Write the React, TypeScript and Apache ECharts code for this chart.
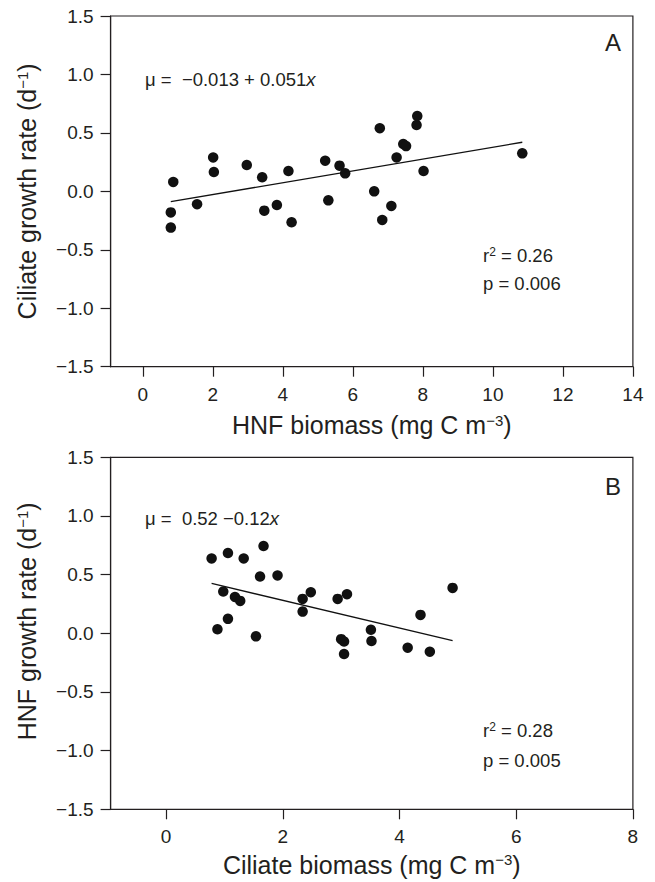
import React, { useEffect, useRef } from "react";
import * as echarts from "echarts";

// Panel A: HNF biomass vs ciliate growth rate
const hnfBiomassA = [0.8, 0.8, 0.87, 1.55, 2.01, 2.03, 2.97, 3.41, 3.47, 3.83, 4.16, 4.25, 5.21, 5.3, 5.62, 5.78, 6.61, 6.77, 6.84, 7.1, 7.25, 7.44, 7.52, 7.82, 7.84, 8.02, 10.84];
const ciliateGrowthA = [-0.18, -0.31, 0.08, -0.11, 0.29, 0.165, 0.225, 0.12, -0.165, -0.117, 0.174, -0.265, 0.262, -0.077, 0.22, 0.154, 0.0, 0.54, -0.245, -0.125, 0.29, 0.405, 0.387, 0.567, 0.644, 0.174, 0.325];
const fitAX = [0.8, 10.84];
const fitAY = [-0.088, 0.42];

// Panel B: ciliate biomass vs HNF growth rate
const ciliateBiomassB = [0.78, 1.06, 1.33, 1.67, 1.61, 1.91, 0.98, 1.18, 1.27, 1.06, 0.88, 1.54, 2.34, 2.48, 2.34, 2.94, 3.1, 3.0, 3.05, 3.51, 3.52, 4.36, 4.91, 3.05, 4.14, 4.52];
const hnfGrowthB = [0.638, 0.684, 0.638, 0.744, 0.484, 0.493, 0.356, 0.31, 0.276, 0.123, 0.034, -0.026, 0.293, 0.35, 0.185, 0.293, 0.333, -0.05, -0.07, 0.03, -0.066, 0.157, 0.387, -0.177, -0.123, -0.157];
const fitBX = [0.78, 4.91];
const fitBY = [0.425, -0.063];

// Tick values
const xTicksA = [0, 2, 4, 6, 8, 10, 12, 14];
const xTicksB = [0, 2, 4, 6, 8];

const FONT = "'Liberation Sans', Arial, Helvetica, sans-serif";
const INK = "#231f20";

const fmtY = (v: number) => v.toFixed(1).replace("-", "\u2212");

function makeYAxis(gridIndex: number, name: string, pad: number[]) {
  return {
    type: "value",
    gridIndex,
    min: -1.5,
    max: 1.5,
    interval: 0.5,
    name,
    nameLocation: "middle",
    nameGap: 71,
    nameTextStyle: {
      fontSize: 25,
      fontFamily: FONT,
      color: INK,
      padding: pad,
      rich: { s: { fontSize: 15, fontFamily: FONT, color: INK, verticalAlign: "top" } },
    },
    axisLine: { show: true, onZero: false, lineStyle: { color: INK, width: 1.2 } },
    axisTick: { show: true, length: 10, lineStyle: { color: INK, width: 1.2 } },
    axisLabel: { margin: 17, fontSize: 19, fontFamily: FONT, color: INK, formatter: fmtY },
    splitLine: { show: false },
  };
}

function makeXAxis(gridIndex: number, min: number, max: number, ticks: number[], name: string, gap: number) {
  return {
    type: "value",
    gridIndex,
    min,
    max,
    name,
    nameLocation: "middle",
    nameGap: gap,
    nameTextStyle: {
      fontSize: 25,
      fontFamily: FONT,
      color: INK,
      rich: { s: { fontSize: 15, fontFamily: FONT, color: INK, verticalAlign: "top" } },
    },
    axisLine: { show: true, onZero: false, lineStyle: { color: INK, width: 1.2 } },
    axisTick: { show: true, length: 10, customValues: ticks, lineStyle: { color: INK, width: 1.2 } },
    axisLabel: { margin: 18, fontSize: 19, fontFamily: FONT, color: INK, customValues: ticks, formatter: (v: number) => String(v) },
    splitLine: { show: false },
  };
}

function txt(x: number, y: number, text: string, size: number) {
  return {
    type: "text",
    x,
    y,
    style: {
      text,
      fontSize: size,
      fontFamily: FONT,
      fill: INK,
      align: "left",
      verticalAlign: "middle",
      rich: {
        n: { fontSize: size, fontFamily: FONT, fill: INK, color: INK },
        i: { fontSize: size, fontFamily: FONT, fontStyle: "italic", fill: INK, color: INK },
        s: { fontSize: 12, fontFamily: FONT, fill: INK, color: INK, verticalAlign: "top" },
      },
    },
  };
}

export default function App() {
  const ref = useRef<HTMLDivElement>(null);
  useEffect(() => {
    if (!ref.current) return;
    const chart = echarts.init(ref.current, undefined, { renderer: "svg" });
    const scatterA = hnfBiomassA.map((x, i) => [x, ciliateGrowthA[i]]);
    const scatterB = ciliateBiomassB.map((x, i) => [x, hnfGrowthB[i]]);
    const lineA = fitAX.map((x, i) => [x, fitAY[i]]);
    const lineB = fitBX.map((x, i) => [x, fitBY[i]]);
    const dot = { color: "#111", opacity: 1 };
    chart.setOption({
      animation: false,
      grid: [
        { left: 110.6, top: 16, width: 522.3, height: 350.7, show: true, borderColor: INK, borderWidth: 1.2, backgroundColor: "transparent" },
        { left: 110.6, top: 457.3, width: 522.3, height: 352, show: true, borderColor: INK, borderWidth: 1.2, backgroundColor: "transparent" },
      ],
      xAxis: [
        makeXAxis(0, -0.92, 14, xTicksA, "HNF biomass (mg C m{s|\u22123})", 46),
        makeXAxis(1, -0.951, 8, xTicksB, "Ciliate biomass (mg C m{s|\u22123})", 43),
      ],
      yAxis: [
        makeYAxis(0, "Ciliate growth rate (d{s|\u22121})", [0, 0, 0, 0]),
        makeYAxis(1, "HNF growth rate (d{s|\u22121})", [0, 0, 0, 24]),
      ],
      series: [
        { type: "scatter", xAxisIndex: 0, yAxisIndex: 0, data: scatterA, symbolSize: 10.5, itemStyle: dot },
        { type: "line", xAxisIndex: 0, yAxisIndex: 0, data: lineA, symbol: "none", lineStyle: { color: "#111", width: 1.3 } },
        { type: "scatter", xAxisIndex: 1, yAxisIndex: 1, data: scatterB, symbolSize: 10.5, itemStyle: dot },
        { type: "line", xAxisIndex: 1, yAxisIndex: 1, data: lineB, symbol: "none", lineStyle: { color: "#111", width: 1.3 } },
      ],
      graphic: [
        txt(605, 42, "{n|A}", 24),
        txt(145, 79.5, "{n|\u03bc =  \u22120.013 + 0.051}{i|x}", 18.5),
        txt(483, 255, "{n|r}{s|2}{n| = 0.26}", 18.5),
        txt(483, 283, "{n|p = 0.006}", 18.5),
        txt(605, 486, "{n|B}", 24),
        txt(145, 518.5, "{n|\u03bc =  0.52 \u22120.12}{i|x}", 18.5),
        txt(483, 730, "{n|r}{s|2}{n| = 0.28}", 18.5),
        txt(483, 760, "{n|p = 0.005}", 18.5),
      ],
    });
    return () => chart.dispose();
  }, []);
  return <div ref={ref} style={{ position: "absolute", left: 0, top: 0, width: 655, height: 882 }} />;
}
